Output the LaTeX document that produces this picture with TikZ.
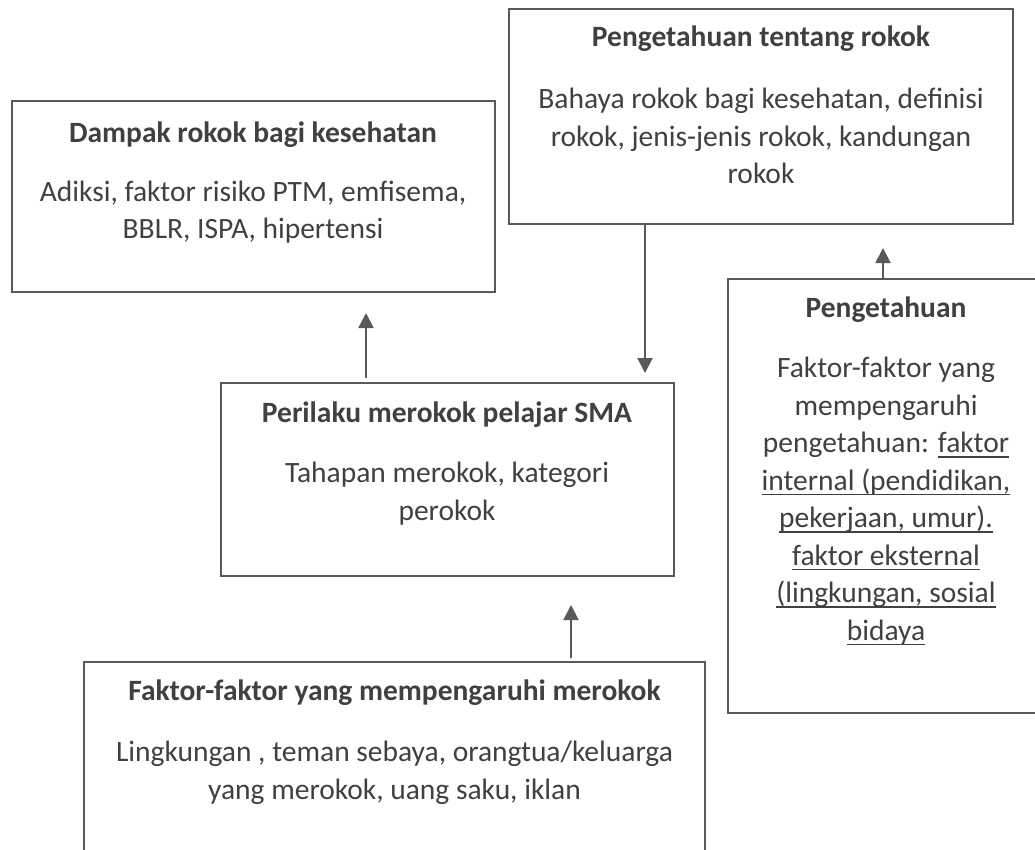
\documentclass[tikz,border=0pt]{standalone}
\usepackage{fontspec}
\setmainfont{Carlito}
\usetikzlibrary{arrows.meta,calc}
\definecolor{linec}{HTML}{595959}
\definecolor{txtc}{HTML}{404040}
\newcommand\myul[1]{\begingroup\setbox0=\hbox{#1}\rlap{\rule[-5pt]{\wd0}{1.4pt}}\box0\endgroup}
\begin{document}
\begin{tikzpicture}[x=1pt,y=-1pt,
  box/.style={draw=linec,line width=2pt,rectangle,inner sep=0pt,outer sep=0pt,anchor=north west},
  head/.style={anchor=base,inner sep=0pt,text=txtc,font={\fontsize{29.5}{37.5}\selectfont\bfseries}},
  body/.style={anchor=base,inner sep=0pt,text=txtc,align=center,font={\fontsize{29.5}{37.5}\selectfont}},
  arr/.style={draw=linec,line width=2pt,-{Triangle[length=15pt,width=15pt]}}]
\clip (0,0) rectangle (1035,850);
% boxes
\node[box,minimum width=483pt,minimum height=191pt] (A) at (12,101) {};
\node[box,minimum width=504pt,minimum height=215pt] (B) at (509,9) {};
\node[box,minimum width=453pt,minimum height=193pt] (C) at (221,383) {};
\node[box,minimum width=316pt,minimum height=434pt] (D) at (728,279) {};
\node[box,minimum width=621pt,minimum height=200pt] (E) at (84,662) {};
% texts (body nodes: base = baseline of last line)
\node[head] (Ah) at (253,143) {Dampak rokok bagi kesehatan};
\node[body] (Ab) at (253,239) {Adiksi, faktor risiko PTM, emfisema,\\BBLR, ISPA, hipertensi};
\node[head] (Bh) at (761,47) {Pengetahuan tentang rokok};
\node[body] (Bb) at (761,184) {Bahaya rokok bagi kesehatan, definisi\\rokok, jenis-jenis rokok, kandungan\\rokok};
\node[head] (Ch) at (447,422) {Perilaku merokok pelajar SMA};
\node[body] (Cb) at (447,520) {Tahapan merokok, kategori\\perokok};
\node[head] (Dh) at (886,317) {Pengetahuan};
\node[body] (Db) at (886,640) {Faktor-faktor yang\\mempengaruhi\\pengetahuan: \myul{faktor}\\\myul{internal (pendidikan,}\\\myul{pekerjaan, umur).}\\\myul{faktor eksternal}\\\myul{(lingkungan, sosial}\\\myul{bidaya}};
\node[head] (Eh) at (394.5,700) {Faktor-faktor yang mempengaruhi merokok};
\node[body] (Eb) at (394.5,799) {Lingkungan , teman sebaya, orangtua/keluarga\\yang merokok, uang saku, iklan};
% arrows
\coordinate (x1) at (366,0);
\coordinate (x2) at (645,0);
\coordinate (x3) at (883,0);
\coordinate (x4) at (571,0);
\draw[arr,shorten <=5pt,shorten >=21pt] (C.north -| x1) -- (A.south -| x1);
\draw[arr,shorten >=10pt] (B.south -| x2) -- (C.north -| x2);
\draw[arr,shorten >=24pt] (D.north -| x3) -- (B.south -| x3);
\draw[arr,shorten <=4pt,shorten >=29pt] (E.north -| x4) -- (C.south -| x4);
\end{tikzpicture}
\end{document}
